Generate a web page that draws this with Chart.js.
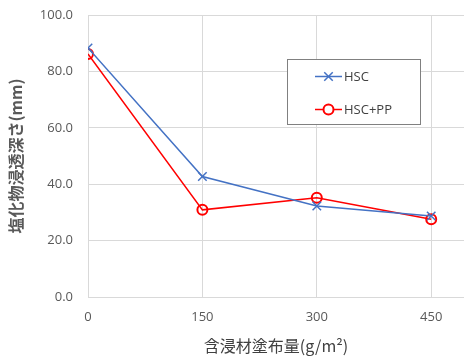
<!DOCTYPE html>
<html><head><meta charset="utf-8">
<script src="https://cdn.jsdelivr.net/npm/chart.js@4/dist/chart.umd.min.js"></script>
<style>html,body{margin:0;padding:0;background:#fff;overflow:hidden}#wrap{width:464px;height:360px}</style>
</head><body><div id="wrap"><canvas id="c" width="464" height="360"></canvas></div>
<script>
const xValues = [0, 150, 300, 450];
const hsc = [88.3, 42.7, 32.3, 28.7];
const hscPP = [86.2, 30.9, 35.2, 27.6];
const seriesNames = ['HSC', 'HSC+PP'];
const xTicks = [0, 150, 300, 450];
const xTitle = '含浸材塗布量(g/m²)';
const yTitle = '塩化物浸透深さ(mm)';

const tickFont = {family: "'Open Sans','Liberation Sans',sans-serif", size: 13};

const legendPlugin = {
  id: 'boxLegend',
  afterDraw(chart) {
    const ctx = chart.ctx;
    ctx.save();
    const bx = 287.5, by = 59.5, bw = 133, bh = 65;
    ctx.fillStyle = '#fff';
    ctx.fillRect(bx, by, bw, bh);
    ctx.strokeStyle = '#808080';
    ctx.lineWidth = 1;
    ctx.strokeRect(bx, by, bw, bh);
    const rows = [76.5, 109.5];
    chart.data.datasets.forEach((ds, i) => {
      const y = rows[i];
      ctx.strokeStyle = ds.borderColor;
      ctx.lineWidth = ds.borderWidth;
      ctx.beginPath(); ctx.moveTo(315, y); ctx.lineTo(342, y); ctx.stroke();
      ctx.fillStyle = '#fff';
      ctx.strokeStyle = ds.pointBorderColor;
      ctx.lineWidth = ds.pointBorderWidth;
      Chart.helpers.drawPoint(ctx, {pointStyle: ds.pointStyle, radius: ds.pointRadius, borderWidth: ds.pointBorderWidth}, 328.5, y);
      ctx.fillStyle = '#404040';
      ctx.font = "13px 'Open Sans','Liberation Sans',sans-serif";
      ctx.textBaseline = 'middle';
      ctx.textAlign = 'left';
      ctx.fillText(ds.label, 344, y + 1);
    });
    ctx.restore();
  }
};

new Chart(document.getElementById('c'), {
  type: 'line',
  data: {
    datasets: [
      {label: seriesNames[0], data: xValues.map((x, i) => ({x, y: hsc[i]})),
       borderColor: '#4472C4', backgroundColor: '#4472C4', borderWidth: 1.5,
       pointStyle: 'crossRot', pointRadius: 6, pointBorderWidth: 1.5, pointBorderColor: '#4472C4', tension: 0},
      {label: seriesNames[1], data: xValues.map((x, i) => ({x, y: hscPP[i]})),
       borderColor: '#FF0000', backgroundColor: 'rgba(255,255,255,0)', borderWidth: 1.5,
       pointStyle: 'circle', pointRadius: 5, pointBorderWidth: 2, pointBorderColor: '#FF0000', pointBackgroundColor: 'rgba(255,255,255,0)', tension: 0}
    ]
  },
  options: {
    responsive: false, animation: false,
    layout: {autoPadding: false, padding: {top: 15, right: 0, left: 6, bottom: 0}},
    plugins: {legend: {display: false}, tooltip: {enabled: false}},
    scales: {
      x: {type: 'linear', min: 0, max: 493,
        afterBuildTicks(s) { s.ticks = xTicks.map(v => ({value: v})); },
        afterFit(s) { s.height = 63; s.paddingLeft = 0; s.paddingRight = 0; },
        grid: {color: '#d9d9d9', drawTicks: false},
        border: {color: '#d9d9d9'},
        ticks: {padding: 12, color: '#595959', font: tickFont, maxRotation: 0},
        title: {display: true, text: xTitle, color: '#404040', font: {family: "'Noto Sans CJK JP',sans-serif", size: 16}, padding: {top: 4, bottom: 4}}
      },
      y: {min: 0, max: 100,
        afterFit(s) { s.width = 82; s.paddingTop = 0; s.paddingBottom = 0; },
        grid: {color: '#d9d9d9', drawTicks: false},
        border: {color: '#d9d9d9'},
        ticks: {stepSize: 20, padding: 15, color: '#595959', font: tickFont, callback: v => v.toFixed(1)},
        title: {display: true, text: yTitle, color: '#595959', font: {family: "'Noto Sans CJK JP',sans-serif", size: 16, weight: 'bold'}, padding: {top: 0, bottom: 4}}
      }
    }
  },
  plugins: [legendPlugin]
});
</script></body></html>
